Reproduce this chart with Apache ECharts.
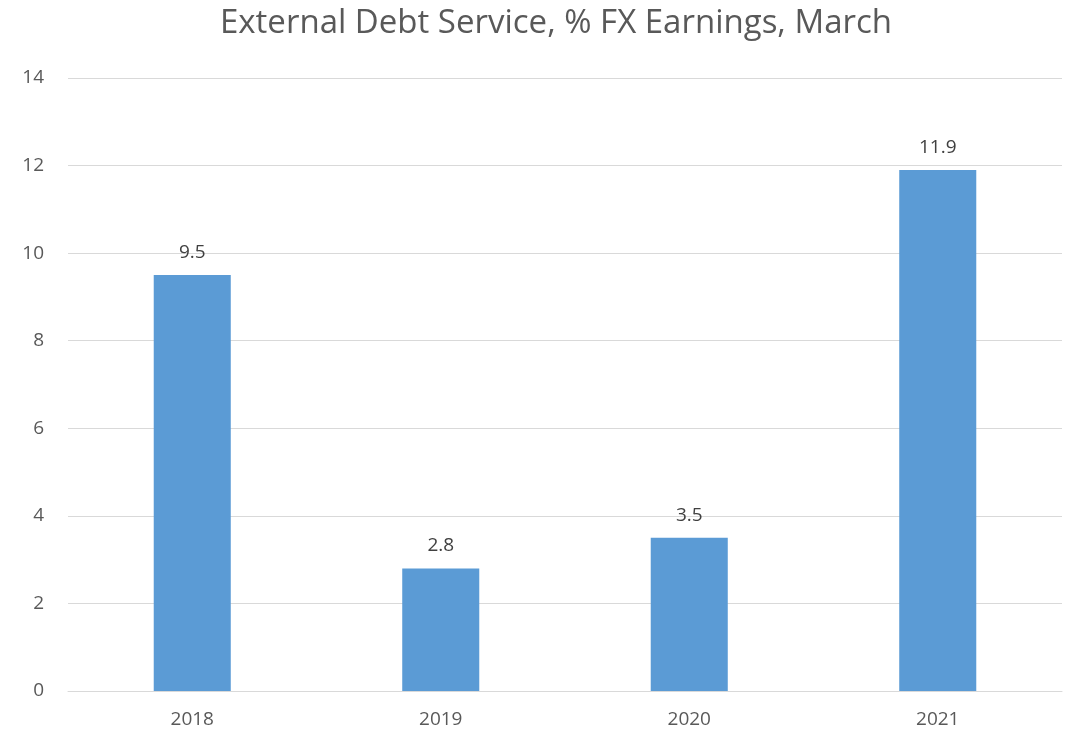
<!DOCTYPE html>
<html><head><meta charset="utf-8">
<script src="https://cdn.jsdelivr.net/npm/echarts@6/dist/echarts.min.js"></script>
<style>html,body{margin:0;padding:0;background:#fff}#c{width:1069px;height:734px}</style>
</head><body><div id="c"></div>
<script>
const categories = ['2018', '2019', '2020', '2021'];
const values = [9.5, 2.8, 3.5, 11.9];
const yTicks = { min: 0, max: 14, interval: 2 };
const titleText = 'External Debt Service, % FX Earnings, March';

const chart = echarts.init(document.getElementById('c'));
chart.setOption({
  animation: false,
  title: {
    text: titleText, left: 215, top: 2,
    textStyle: { fontFamily: 'Open Sans', fontSize: 33, fontWeight: 'normal', color: '#595959' }
  },
  grid: { left: 68, right: 7, top: 78, bottom: 43, containLabel: false },
  xAxis: {
    type: 'category', data: categories,
    axisLine: { lineStyle: { color: '#D9D9D9', width: 1 } },
    axisTick: { show: false },
    axisLabel: { fontFamily: 'Open Sans', fontSize: 19, color: '#595959', margin: 19 }
  },
  yAxis: {
    type: 'value', min: yTicks.min, max: yTicks.max, interval: yTicks.interval,
    axisLine: { show: false }, axisTick: { show: false },
    splitLine: { lineStyle: { color: '#D9D9D9', width: 1 } },
    axisLabel: { fontFamily: 'Open Sans', fontSize: 19, color: '#595959', margin: 24 }
  },
  series: [{
    type: 'bar', data: values, barWidth: '31%',
    itemStyle: { color: '#5B9BD5' },
    label: { show: true, position: 'top', distance: 13, fontFamily: 'Open Sans', fontSize: 19, color: '#404040' }
  }]
});
</script></body></html>
